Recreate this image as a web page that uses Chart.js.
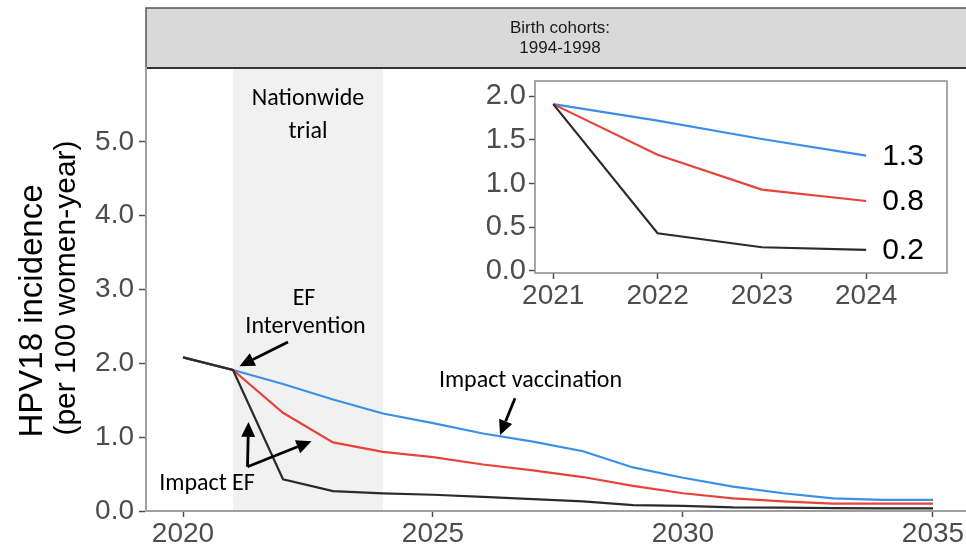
<!DOCTYPE html>
<html>
<head>
<meta charset="utf-8">
<script src="https://cdn.jsdelivr.net/npm/chart.js@4.4.1/dist/chart.umd.min.js"></script>
<style>
  html, body { margin: 0; padding: 0; background: #fff; }
  #wrap { position: relative; width: 966px; height: 548px; overflow: hidden; background: #fff; }
  #main { position: absolute; left: 0; top: 0; }
  #inset { position: absolute; left: 470px; top: 75px; }
</style>
</head>
<body>
<div id="wrap">
  <canvas id="main" width="966" height="548"></canvas>
  <canvas id="inset" width="496" height="240"></canvas>
</div>
<script>
// HPV18 incidence (per 100 women-year), birth cohorts 1994-1998
const years = [2020, 2021, 2022, 2023, 2024, 2025, 2026, 2027, 2028, 2029, 2030, 2031, 2032, 2033, 2034, 2035];
const impactVaccination = [2.08, 1.91, 1.72, 1.51, 1.32, 1.19, 1.05, 0.94, 0.81, 0.59, 0.45, 0.33, 0.24, 0.17, 0.15, 0.15];
const impactEfModerate  = [2.08, 1.91, 1.33, 0.93, 0.80, 0.73, 0.63, 0.55, 0.46, 0.34, 0.24, 0.17, 0.13, 0.10, 0.10, 0.10];
const impactEfStrong    = [2.08, 1.91, 0.43, 0.27, 0.24, 0.22, 0.19, 0.16, 0.13, 0.08, 0.07, 0.05, 0.045, 0.04, 0.035, 0.035];

const xTicks = [2020, 2025, 2030, 2035];
const yTicks = [0, 1, 2, 3, 4, 5];
const insetYears = [2021, 2022, 2023, 2024];
const insetYTicks = [0, 0.5, 1.0, 1.5, 2.0];

const trialPeriod = [2021, 2024];
const stripLines = ['Birth cohorts:', '1994-1998'];
const yTitleLines = ['HPV18 incidence', '(per 100 women-year)'];

const BLUE = '#3a8fe6';
const RED = '#e6433b';
const BLACK = '#2b2b2b';
const TICK_GREY = '#4d4d4d';
const SANS = "'Liberation Sans', Arial, sans-serif";
const NOTE_FONT = "Carlito, Lato, 'Open Sans', sans-serif";

const toPoints = (values, keep) =>
  years.map((x, i) => ({ x, y: values[i] })).filter(p => !keep || keep.includes(p.x));

function series(values, color, keep) {
  return {
    data: toPoints(values, keep),
    borderColor: color,
    backgroundColor: color,
    borderWidth: 2.2,
    pointRadius: 0,
    tension: 0,
    fill: false
  };
}

// text notes (centred on x, baseline at y) and arrows (tail -> tip), in data units
const notes = [
  { text: 'Nationwide', x: 2022.5, y: 5.5 },
  { text: 'trial', x: 2022.5, y: 5.05 },
  { text: 'EF', x: 2022.42, y: 2.784 },
  { text: 'Intervention', x: 2022.45, y: 2.405 },
  { text: 'Impact vaccination', x: 2026.95, y: 1.676 },
  { text: 'Impact EF', x: 2020.48, y: 0.284 }
];
const arrows = [
  [2022.1, 2.288, 2021.13, 1.96],
  [2026.64, 1.527, 2026.34, 1.027],
  [2021.29, 0.599, 2021.31, 1.207],
  [2021.29, 0.599, 2022.57, 0.946]
];

function drawArrow(ctx, x1, y1, x2, y2) {
  const ang = Math.atan2(y2 - y1, x2 - x1);
  const head = 15, half = 7;
  const bx = x2 - head * Math.cos(ang), by = y2 - head * Math.sin(ang);
  ctx.beginPath();
  ctx.moveTo(x1, y1);
  ctx.lineTo(bx, by);
  ctx.lineWidth = 2.8;
  ctx.strokeStyle = '#000';
  ctx.stroke();
  ctx.beginPath();
  ctx.moveTo(x2, y2);
  ctx.lineTo(bx + half * Math.sin(ang), by - half * Math.cos(ang));
  ctx.lineTo(bx - half * Math.sin(ang), by + half * Math.cos(ang));
  ctx.closePath();
  ctx.fillStyle = '#000';
  ctx.fill();
}

const panelDecor = {
  id: 'panelDecor',
  beforeDraw(chart) {
    const { ctx, chartArea: a } = chart;
    ctx.save();
    // facet strip
    ctx.fillStyle = '#d9d9d9';
    ctx.fillRect(a.left, 8, chart.width - a.left + 4, a.top - 8);
    ctx.strokeStyle = '#555';
    ctx.lineWidth = 1.5;
    ctx.strokeRect(a.left, 8, chart.width - a.left + 4, a.top - 8);
    ctx.beginPath();
    ctx.moveTo(a.left, a.top);
    ctx.lineTo(chart.width, a.top);
    ctx.lineWidth = 2.2;
    ctx.strokeStyle = '#333';
    ctx.stroke();
    ctx.fillStyle = '#1a1a1a';
    ctx.font = '17px ' + SANS;
    ctx.textAlign = 'center';
    ctx.textBaseline = 'middle';
    const cx = (a.left + chart.width) / 2 + 4;
    stripLines.forEach((t, i) => ctx.fillText(t, cx, 28 + i * 20));
    // shaded trial period
    const x = chart.scales.x;
    const x0 = x.getPixelForValue(trialPeriod[0]);
    const x1 = x.getPixelForValue(trialPeriod[1]);
    ctx.fillStyle = '#f1f1f1';
    ctx.fillRect(x0, a.top + 1, x1 - x0, a.bottom - a.top - 1);
    // y axis title
    ctx.fillStyle = '#000';
    ctx.textAlign = 'center';
    ctx.textBaseline = 'middle';
    const placement = [[33, 311, 33], [67, 288, 30]];
    yTitleLines.forEach((t, i) => {
      const [px, py, size] = placement[i];
      ctx.save();
      ctx.font = size + 'px ' + SANS;
      ctx.translate(px, py);
      ctx.rotate(-Math.PI / 2);
      ctx.fillText(t, 0, 0);
      ctx.restore();
    });
    ctx.restore();
  },
  afterDatasetsDraw(chart) {
    const { ctx } = chart;
    const sx = chart.scales.x, sy = chart.scales.y;
    ctx.save();
    ctx.fillStyle = '#000';
    ctx.font = '24px ' + NOTE_FONT;
    ctx.textAlign = 'center';
    ctx.textBaseline = 'alphabetic';
    notes.forEach(n => ctx.fillText(n.text, sx.getPixelForValue(n.x), sy.getPixelForValue(n.y)));
    arrows.forEach(([a, b, c, d]) =>
      drawArrow(ctx, sx.getPixelForValue(a), sy.getPixelForValue(b), sx.getPixelForValue(c), sy.getPixelForValue(d)));
    ctx.restore();
  }
};

new Chart(document.getElementById('main'), {
  type: 'line',
  data: {
    datasets: [
      series(impactEfStrong, BLACK),
      series(impactEfModerate, RED),
      series(impactVaccination, BLUE)
    ]
  },
  options: {
    responsive: false,
    animation: false,
    devicePixelRatio: 1,
    layout: { padding: { top: 68, right: 0, bottom: 0, left: 0 } },
    plugins: { legend: { display: false }, tooltip: { enabled: false } },
    scales: {
      x: {
        type: 'linear',
        min: 2019.26,
        max: 2035.66,
        afterBuildTicks: s => { s.ticks = xTicks.map(v => ({ value: v })); },
        afterFit: s => { s.height = 37; s.paddingLeft = 0; s.paddingRight = 0; },
        grid: { drawOnChartArea: false, drawTicks: true, tickLength: 6, tickColor: TICK_GREY, tickWidth: 1.5 },
        border: { display: true, color: '#a0a0a0', width: 2 },
        ticks: {
          autoSkip: false, maxRotation: 0, padding: 3,
          color: TICK_GREY, font: { family: SANS, size: 28, lineHeight: 1 },
          callback: v => String(v)
        }
      },
      y: {
        type: 'linear',
        min: 0,
        max: 6,
        afterBuildTicks: s => { s.ticks = yTicks.map(v => ({ value: v })); },
        afterFit: s => { s.width = 146; s.paddingTop = 0; s.paddingBottom = 0; },
        grid: { drawOnChartArea: false, drawTicks: true, tickLength: 7, tickColor: TICK_GREY, tickWidth: 1.5 },
        border: { display: true, color: '#a0a0a0', width: 2 },
        ticks: {
          padding: 5, color: TICK_GREY, font: { family: SANS, size: 28, lineHeight: 1 },
          callback: v => Number(v).toFixed(1)
        }
      }
    }
  },
  plugins: [panelDecor]
});

// inset: zoom on the trial period with end-of-period values
const insetDecor = {
  id: 'insetDecor',
  afterDatasetsDraw(chart) {
    const { ctx, chartArea: a } = chart;
    const sx = chart.scales.x, sy = chart.scales.y;
    ctx.save();
    ctx.strokeStyle = '#8a8a8a';
    ctx.lineWidth = 1.5;
    ctx.strokeRect(a.left, a.top, a.right - a.left, a.bottom - a.top);
    ctx.fillStyle = '#000';
    ctx.font = '30px ' + SANS;
    ctx.textAlign = 'left';
    ctx.textBaseline = 'middle';
    const last = insetYears[insetYears.length - 1];
    const idx = years.indexOf(last);
    [impactVaccination, impactEfModerate, impactEfStrong].forEach(vals => {
      const v = vals[idx];
      ctx.fillText(v.toFixed(1), sx.getPixelForValue(last) + 16, sy.getPixelForValue(v) + 1);
    });
    ctx.restore();
  }
};

new Chart(document.getElementById('inset'), {
  type: 'line',
  data: {
    datasets: [
      series(impactEfStrong, BLACK, insetYears),
      series(impactEfModerate, RED, insetYears),
      series(impactVaccination, BLUE, insetYears)
    ]
  },
  options: {
    responsive: false,
    animation: false,
    devicePixelRatio: 1,
    layout: { padding: { top: 6, right: 19, bottom: 0, left: 0 } },
    plugins: { legend: { display: false }, tooltip: { enabled: false } },
    scales: {
      x: {
        type: 'linear',
        min: 2020.825,
        max: 2024.775,
        afterBuildTicks: s => { s.ticks = insetYears.map(v => ({ value: v })); },
        afterFit: s => { s.height = 42; s.paddingLeft = 0; s.paddingRight = 0; },
        grid: { drawOnChartArea: false, drawTicks: true, tickLength: 6, tickColor: TICK_GREY, tickWidth: 1.5 },
        border: { display: false },
        ticks: {
          autoSkip: false, maxRotation: 0, padding: 3,
          color: TICK_GREY, font: { family: SANS, size: 28, lineHeight: 1 },
          callback: v => String(v)
        }
      },
      y: {
        type: 'linear',
        min: -0.025,
        max: 2.175,
        afterBuildTicks: s => { s.ticks = insetYTicks.map(v => ({ value: v })); },
        afterFit: s => { s.width = 65; s.paddingTop = 0; s.paddingBottom = 0; },
        grid: { drawOnChartArea: false, drawTicks: true, tickLength: 6, tickColor: TICK_GREY, tickWidth: 1.5 },
        border: { display: false },
        ticks: {
          padding: 3, color: TICK_GREY, font: { family: SANS, size: 29, lineHeight: 1 },
          callback: v => Number(v).toFixed(1)
        }
      }
    }
  },
  plugins: [insetDecor]
});
</script>
</body>
</html>
